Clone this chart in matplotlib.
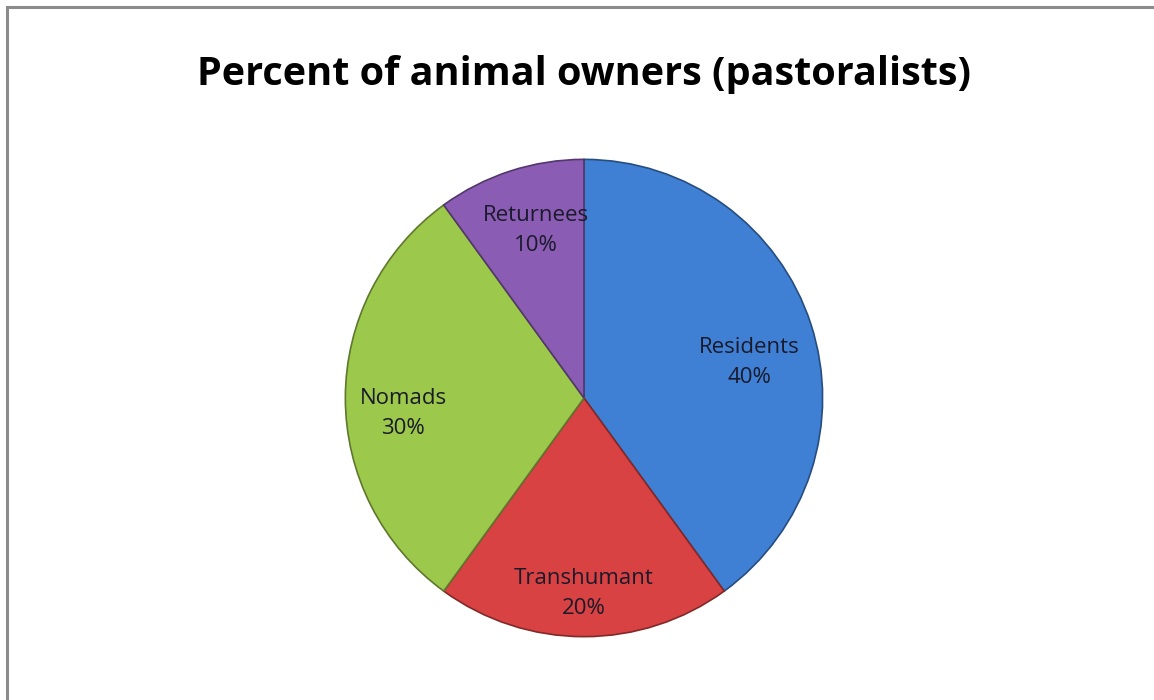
import numpy as np
import matplotlib.pyplot as plt
from matplotlib.patches import Rectangle
from matplotlib.colors import to_rgb

categories = ["Residents", "Transhumant", "Nomads", "Returnees"]
shares = [40, 20, 30, 10]
colors = ["#3f80d5", "#d84242", "#9cc84b", "#8a5cb3"]
label_radius = [0.71, 0.82, 0.76, 0.73]
label_shift = [-6, 0, 5, -2]  # degrees off the wedge middle

fig = plt.figure(figsize=(11.54, 7.0), dpi=100)
fig.patches.append(Rectangle((7 / 1154, -0.05), 1.2, 1 - 7 / 700 + 0.05,
                             transform=fig.transFigure, fill=False,
                             edgecolor="#8c8c8c", lw=2.2))

ax = fig.add_axes([0.2972, 0.0871, 0.4177, 0.6886])


def darker(c, f=0.6):
    r, g, b = to_rgb(c)
    return (r * f, g * f, b * f)


wedges, _ = ax.pie(shares, colors=colors, startangle=90, counterclock=False,
                   radius=1.0, wedgeprops=dict(lw=1.2))
for w, c in zip(wedges, colors):
    w.set_edgecolor(darker(c))

for w, name, pct, lr, sh in zip(wedges, categories, shares, label_radius, label_shift):
    ang = np.deg2rad((w.theta1 + w.theta2) / 2 + sh)
    x, y = lr * np.cos(ang), lr * np.sin(ang)
    ax.text(x, y, f"{name}\n{pct}%", ha="center", va="center", fontsize=16,
            family="Open Sans", color="#1a1a2a", linespacing=1.55)

ax.set_xlim(-1.01, 1.01)
ax.set_ylim(-1.01, 1.01)
ax.set_aspect("equal")
ax.axis("off")

fig.text(0.506, 1 - 75 / 700, "Percent of animal owners (pastoralists)",
         ha="center", va="center", fontsize=28.5, fontweight="bold",
         family="Open Sans", color="black")

fig.savefig("out.png", dpi=100)
